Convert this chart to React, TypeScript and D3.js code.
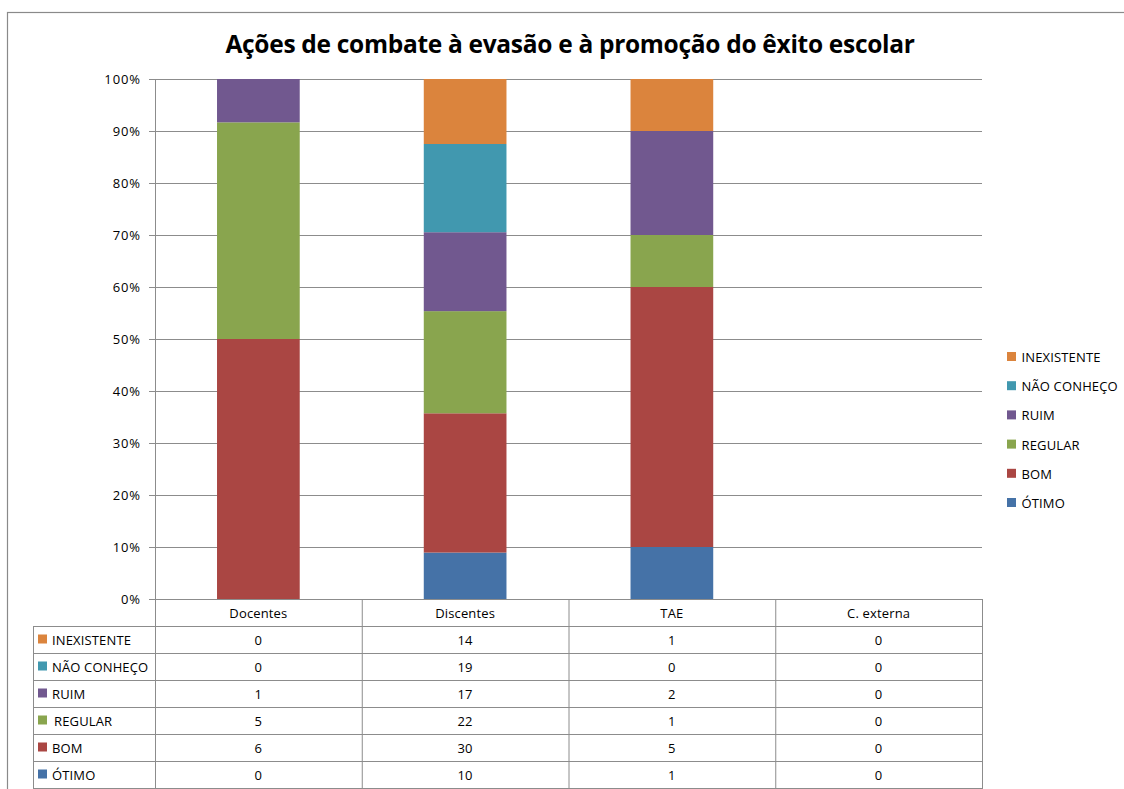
import React from "react";
import * as d3 from "d3";

const categories = ["Docentes", "Discentes", "TAE", "C. externa"];
const seriesNames = ["ÓTIMO", "BOM", "REGULAR", "RUIM", "NÃO CONHEÇO", "INEXISTENTE"];
const seriesColors = ["#4572A7", "#AA4643", "#89A54E", "#71588F", "#4198AF", "#DB843D"];
const otimo = [0, 10, 1, 0];
const bom = [6, 30, 5, 0];
const regular = [5, 22, 1, 0];
const ruim = [1, 17, 2, 0];
const naoConheco = [0, 19, 0, 0];
const inexistente = [0, 14, 1, 0];
const seriesValues = [otimo, bom, regular, ruim, naoConheco, inexistente];
const yTicks = [0, 0.1, 0.2, 0.3, 0.4, 0.5, 0.6, 0.7, 0.8, 0.9, 1];

const W = 1124, H = 789;
const left = 155, right = 982, top = 79, bottom = 599;
const rowH = 27;
const tableLeft = 33;
const FONT = "'Open Sans', sans-serif";
const GRID = "#8c8c8c";
const FS = 13;
const LS = 0.15;

export default function App() {
  const x = d3.scaleBand<string>().domain(categories).range([left, right]).paddingInner(0.6).paddingOuter(0.3);
  const col = d3.scaleBand<string>().domain(categories).range([left, right]).padding(0);
  const y = d3.scaleLinear().domain([0, 1]).range([bottom, top]);

  const rows = categories.map((c, i) => {
    const o: any = { cat: c };
    seriesNames.forEach((s, j) => (o[s] = seriesValues[j][i]));
    return o;
  });
  const stacked = d3.stack<any>().keys(seriesNames).offset(d3.stackOffsetExpand)(rows);

  const tableOrder = seriesNames.map((_, i) => seriesNames.length - 1 - i);
  const tableTop = bottom + rowH;

  return (
    <svg width={W} height={H} style={{ position: "absolute", left: 0, top: 0, background: "#fff" }} fontFamily={FONT}>
      <rect x={7.5} y={12.5} width={W + 20} height={H + 20} fill="#fff" stroke="#8a8a8a" strokeWidth={1.2} />
      <text x={570} y={53} textAnchor="middle" fontSize={24.5} fontWeight="bold" fill="#000" letterSpacing={-0.3}>
        Ações de combate à evasão e à promoção do êxito escolar
      </text>
      {yTicks.map((t) => (
        <g key={t}>
          <line x1={left - 6} x2={right} y1={Math.round(y(t)) + 0.5} y2={Math.round(y(t)) + 0.5} stroke={GRID} strokeWidth={1} />
          <text x={141} y={y(t) + 4.5} textAnchor="end" fontSize={FS} letterSpacing={0.9} fill="#000">
            {d3.format(".0%")(t)}
          </text>
        </g>
      ))}
      <line x1={left + 0.5} x2={left + 0.5} y1={top} y2={bottom} stroke={GRID} />
      {stacked.map((layer, j) => (
        <g key={layer.key} fill={seriesColors[j]}>
          {layer.map((d, i) => {
            const h = y(d[0]) - y(d[1]);
            if (!(h > 0)) return null;
            return <rect key={i} x={x(categories[i])} y={y(d[1])} width={x.bandwidth()} height={h} />;
          })}
        </g>
      ))}
      <g stroke={GRID} strokeWidth={1} fill="none">
        {categories.map((c) => (
          <line key={"hv" + c} x1={col(c)! + 0.5} x2={col(c)! + 0.5} y1={bottom} y2={H} />
        ))}
        <line x1={right + 0.5} x2={right + 0.5} y1={bottom} y2={H} />
        <line x1={tableLeft + 0.5} x2={tableLeft + 0.5} y1={tableTop} y2={H} />
        <line x1={left} x2={right} y1={bottom + 0.5} y2={bottom + 0.5} />
        {tableOrder.map((_, r) => (
          <line key={"h" + r} x1={tableLeft} x2={right} y1={tableTop + r * rowH + 0.5} y2={tableTop + r * rowH + 0.5} />
        ))}
        <line x1={tableLeft} x2={right} y1={tableTop + 6 * rowH + 0.5} y2={tableTop + 6 * rowH + 0.5} />
      </g>
      {categories.map((c) => (
        <text key={"hd" + c} x={col(c)! + col.bandwidth() / 2} y={bottom + 19} textAnchor="middle" fontSize={FS} letterSpacing={LS} fill="#000">
          {c}
        </text>
      ))}
      {tableOrder.map((j, r) => (
        <g key={"row" + j}>
          <rect x={38} y={tableTop + r * rowH + 8.5} width={9} height={9} fill={seriesColors[j]} />
          <text x={seriesNames[j] === "REGULAR" ? 54 : 52} y={tableTop + r * rowH + 19} fontSize={FS} letterSpacing={LS} fill="#000">
            {seriesNames[j]}
          </text>
          {categories.map((c, i) => (
            <text key={c} x={col(c)! + col.bandwidth() / 2} y={tableTop + r * rowH + 19} textAnchor="middle" fontSize={FS} letterSpacing={LS} fill="#000">
              {seriesValues[j][i]}
            </text>
          ))}
        </g>
      ))}
      {tableOrder.map((j, r) => (
        <g key={"lg" + j}>
          <rect x={1007} y={352 + r * 29.2} width={9} height={9} fill={seriesColors[j]} />
          <text x={1021.5} y={362 + r * 29.2} fontSize={FS} letterSpacing={LS} fill="#000">
            {seriesNames[j]}
          </text>
        </g>
      ))}
    </svg>
  );
}
